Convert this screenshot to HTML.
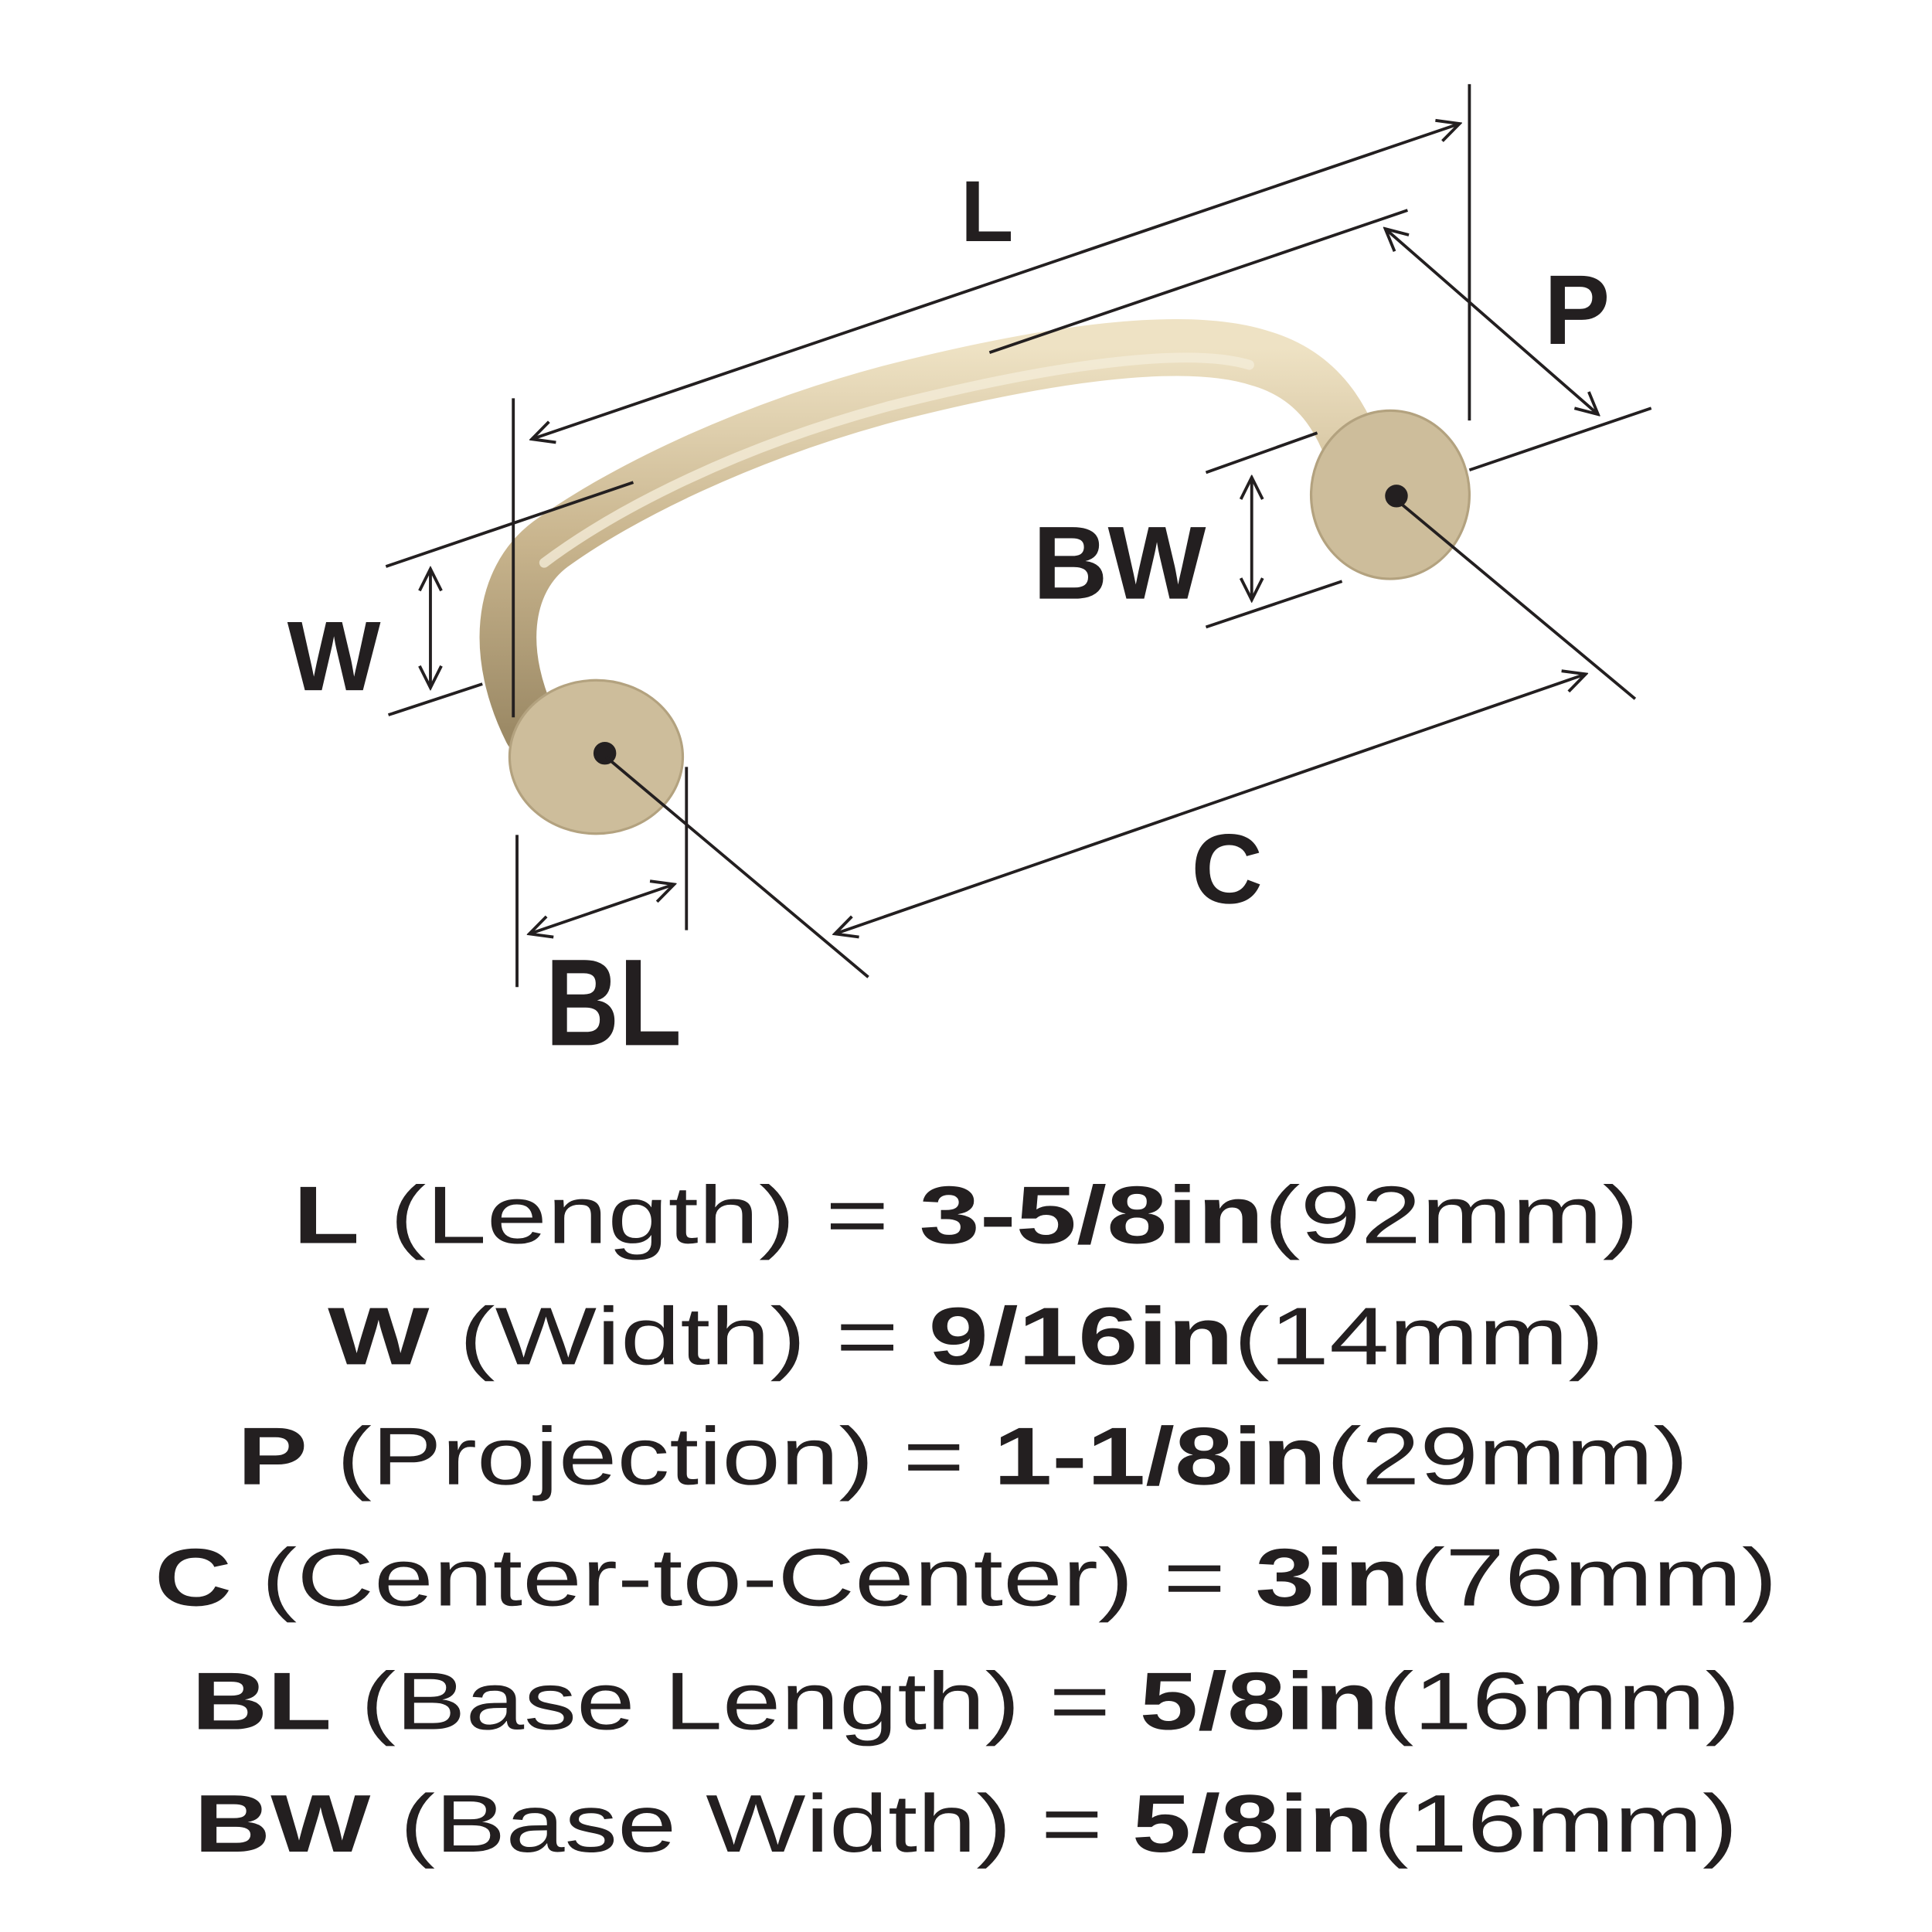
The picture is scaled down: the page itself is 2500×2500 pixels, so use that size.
<!DOCTYPE html>
<html><head><meta charset="utf-8"><style>
html,body{margin:0;padding:0;background:#fff;}
svg{display:block;}
</style></head><body>
<svg width="2500" height="2500" viewBox="0 0 1562 1562" xmlns="http://www.w3.org/2000/svg">
<defs>
<marker id="a" viewBox="0 0 20 20" refX="18" refY="10" markerWidth="22" markerHeight="22" orient="auto-start-reverse" markerUnits="userSpaceOnUse">
<path d="M2,2 L18,10 L2,18" fill="none" stroke="#231f20" stroke-width="2.2"/>
</marker>
<linearGradient id="g" x1="0" y1="0" x2="0" y2="1">
<stop offset="0" stop-color="#eee2c4"/><stop offset="0.5" stop-color="#c9b58e"/><stop offset="1" stop-color="#9c8a66"/>
</linearGradient>
</defs>
<g stroke="#231f20" stroke-width="2.4" fill="none">
<path d="M430,590 C400,530 405,470 445,440 C500,400 600,350 720,318 C850,285 960,270 1020,290 C1070,305 1090,345 1100,385" stroke="url(#g)" stroke-width="46" stroke-linecap="round"/>
<path d="M440,455 C500,410 600,360 720,328 C850,295 960,280 1010,295" stroke="#f4ecd8" stroke-width="8" stroke-linecap="round" opacity="0.8"/>
<ellipse cx="482" cy="612" rx="70" ry="62" fill="#cdbd9b" stroke="#b3a27f" stroke-width="2"/>
<ellipse cx="1124" cy="400" rx="64" ry="68" fill="#cdbd9b" stroke="#b3a27f" stroke-width="2"/>
<circle cx="489" cy="609" r="8" fill="#231f20"/>
<circle cx="1129" cy="401" r="8" fill="#231f20"/>
<line x1="430" y1="355" x2="1180" y2="100" marker-start="url(#a)" marker-end="url(#a)"/>
<line x1="1188" y1="68" x2="1188" y2="340"/>
<line x1="415" y1="322" x2="415" y2="580"/>
<line x1="800" y1="285" x2="1138" y2="170"/>
<line x1="1120" y1="185" x2="1292" y2="335" marker-start="url(#a)" marker-end="url(#a)"/>
<line x1="1188" y1="380" x2="1335" y2="330"/>
<line x1="312" y1="458" x2="512" y2="390"/>
<line x1="314" y1="578" x2="390" y2="553"/>
<line x1="348" y1="460" x2="348" y2="556" marker-start="url(#a)" marker-end="url(#a)"/>
<line x1="975" y1="382" x2="1065" y2="350"/>
<line x1="975" y1="507" x2="1085" y2="470"/>
<line x1="1012" y1="386" x2="1012" y2="485" marker-start="url(#a)" marker-end="url(#a)"/>
<line x1="675" y1="755" x2="1282" y2="545" marker-start="url(#a)" marker-end="url(#a)"/>
<line x1="490" y1="612" x2="702" y2="790"/>
<line x1="1130" y1="405" x2="1322" y2="565"/>
<line x1="418" y1="675" x2="418" y2="798"/>
<line x1="555" y1="620" x2="555" y2="752"/>
<line x1="428" y1="755" x2="545" y2="715" marker-start="url(#a)" marker-end="url(#a)"/>
</g>
<g font-family="Liberation Sans, sans-serif" font-weight="bold" fill="#231f20">
<text x="798" y="195" font-size="70" text-anchor="middle">L</text>
<text x="1275" y="278" font-size="80" text-anchor="middle">P</text>
<text x="270" y="558" font-size="80" text-anchor="middle">W</text>
<text x="905" y="484" font-size="84" text-anchor="middle" textLength="140" lengthAdjust="spacingAndGlyphs">BW</text>
<text x="992" y="730" font-size="80" text-anchor="middle">C</text>
<text x="496" y="845" font-size="100" text-anchor="middle" textLength="110" lengthAdjust="spacingAndGlyphs">BL</text>
</g>
<g font-family="Liberation Sans, sans-serif" font-size="66" fill="#231f20">
<text x="237" y="1005" textLength="1088" lengthAdjust="spacingAndGlyphs"><tspan font-weight="bold">L</tspan> (Length) = <tspan font-weight="bold">3-5/8in</tspan>(92mm)</text>
<text x="265" y="1103" textLength="1032" lengthAdjust="spacingAndGlyphs"><tspan font-weight="bold">W</tspan> (Width) = <tspan font-weight="bold">9/16in</tspan>(14mm)</text>
<text x="192" y="1200" textLength="1173" lengthAdjust="spacingAndGlyphs"><tspan font-weight="bold">P</tspan> (Projection) = <tspan font-weight="bold">1-1/8in</tspan>(29mm)</text>
<text x="125" y="1298" textLength="1312" lengthAdjust="spacingAndGlyphs"><tspan font-weight="bold">C</tspan> (Center-to-Center) = <tspan font-weight="bold">3in</tspan>(76mm)</text>
<text x="155" y="1398" textLength="1252" lengthAdjust="spacingAndGlyphs"><tspan font-weight="bold">BL</tspan> (Base Length) = <tspan font-weight="bold">5/8in</tspan>(16mm)</text>
<text x="157" y="1497" textLength="1248" lengthAdjust="spacingAndGlyphs"><tspan font-weight="bold">BW</tspan> (Base Width) = <tspan font-weight="bold">5/8in</tspan>(16mm)</text>
</g>
</svg>
</body></html>
